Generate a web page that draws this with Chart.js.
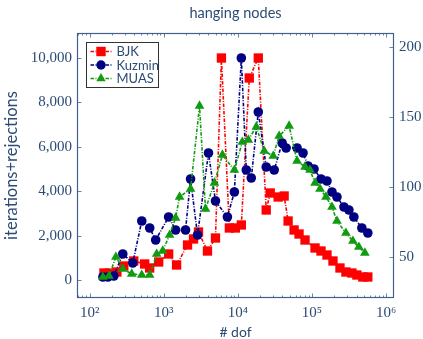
<!DOCTYPE html>
<html>
<head>
<meta charset="utf-8">
<script src="https://cdn.jsdelivr.net/npm/chart.js@4.4.0/dist/chart.umd.min.js"></script>
<style>
  body { margin: 0; background: #fff; }
</style>
</head>
<body>
<canvas id="myChart" width="423" height="339"></canvas>
<script>
const chartTitle = 'hanging nodes';
const xTitle = '# dof';
const yTitle = 'iterations+rejections';

const dofTicks = [1e2, 1e3, 1e4, 1e5, 1e6];
const dofTickLabels = ['10²', '10³', '10⁴', '10⁵', '10⁶'];
const leftTicks = [0, 2000, 4000, 6000, 8000, 10000];
const rightTicks = [50, 100, 150, 200];

// BJK and Kuzmin on the left axis
const bjkDof = [156, 187, 233, 289, 394, 553, 646, 854, 1164, 1490, 2094, 2523, 2944, 3890, 4989, 6000,
  7690, 9250, 11140, 14260, 18870, 24150, 27350, 34990, 42140, 47640, 57410, 66980, 80650, 110100,
  132500, 159500, 192200, 238900, 287300, 346000, 403900, 486300, 567300];
const bjkIter = [315, 315, 360, 630, 856, 721, 541, 811, 1171, 676, 1577, 1847, 2162, 1306, 1892, 10000,
  2343, 2343, 2478, 9100, 10000, 3154, 3919, 3739, 3784, 2658, 2253, 2072, 1802, 1442,
  1306, 1126, 856, 541, 360, 315, 225, 135, 135];

const kuzminDof = [151, 176, 212, 280, 382, 505, 646, 778, 1164, 1445, 1968, 2300, 2856, 4015, 4989, 7228,
  8974, 11140, 13000, 15170, 18870, 24150, 30920, 39600, 44780, 62950, 75820, 88460, 106600, 132500,
  159500, 186300, 217500, 270400, 315300, 368000, 471200, 567300];
const kuzminIter = [135, 135, 180, 1171, 766, 2658, 2343, 1802, 2838, 2253, 2253, 4550, 2027, 5721, 3559, 2838,
  3964, 10000, 4956, 4595, 7568, 5091, 4956, 6172, 5947, 5947, 5721, 5136, 5001, 4550,
  4460, 3964, 3739, 3289, 3154, 2838, 2343, 2117];

// MUAS on the right axis
const muasDof = [151, 182, 226, 280, 370, 505, 646, 803, 967, 1200, 1445, 1636, 2300, 3040, 3656, 4831,
  6192, 8974, 11480, 13830, 17730, 22700, 30000, 36060, 49170, 62950, 80650, 94130, 110100, 128500,
  154800, 186300, 217500, 287300, 356700, 429600, 517200];
const muasIter = [35.7, 36.4, 50.0, 41.4, 37.9, 37.1, 37.1, 52.1, 54.3, 65.7, 77.9, 92.9, 98.6, 157.9, 84.3, 102.9,
  122.9, 112.1, 132.1, 133.6, 142.9, 125.7, 122.1, 136.4, 143.6, 118.6, 114.3, 112.1, 102.9, 98.6,
  92.9, 85.7, 75.7, 67.1, 61.4, 57.1, 52.9];

const textColor = '#2c4b74';
const frameColor = '#3f618c';
const tickColor = '#6d86a6';
const tickFont = { family: "'Liberation Serif', serif", size: 15 };
const labelFont = { family: "Lato, 'Noto Sans', sans-serif", size: 16.5, lineHeight: 1.2 };

function series(label, xs, ys, color, style, radius, axis, order) {
  return {
    label: label,
    data: xs.map((x, i) => ({ x: x, y: ys[i] })),
    yAxisID: axis,
    order: order,
    borderColor: color,
    backgroundColor: color,
    pointBackgroundColor: color,
    pointBorderColor: color,
    pointBorderWidth: 0,
    pointStyle: style,
    pointRadius: radius,
    pointHoverRadius: radius,
    borderWidth: 1.6,
    borderDash: [3.5, 1.5, 1, 1.5],
    fill: false,
    tension: 0
  };
}

const legendItems = [
  { label: 'BJK', color: '#ff0000', mark: 'rect' },
  { label: 'Kuzmin', color: '#000080', mark: 'circle' },
  { label: 'MUAS', color: '#109b10', mark: 'triangle' }
];

function drawMark(ctx, mark, cx, cy) {
  ctx.beginPath();
  if (mark === 'rect') {
    ctx.rect(cx - 4.7, cy - 4.7, 9.4, 9.4);
  } else if (mark === 'circle') {
    ctx.arc(cx, cy, 4.7, 0, Math.PI * 2);
  } else {
    const r = 5.4;
    ctx.moveTo(cx, cy - r);
    ctx.lineTo(cx + r * Math.sin(Math.PI * 2 / 3), cy - r * Math.cos(Math.PI * 2 / 3));
    ctx.lineTo(cx + r * Math.sin(Math.PI * 4 / 3), cy - r * Math.cos(Math.PI * 4 / 3));
    ctx.closePath();
  }
  ctx.fill();
}

const framePlugin = {
  id: 'frame',
  afterDraw(chart) {
    const ctx = chart.ctx;
    const a = chart.chartArea;
    const x = chart.scales.x, y = chart.scales.y, y1 = chart.scales.y1;
    ctx.save();

    // title over the plot area
    ctx.fillStyle = textColor;
    ctx.font = "14.5px Lato, 'Noto Sans', sans-serif";
    ctx.textAlign = 'center';
    ctx.textBaseline = 'middle';
    ctx.fillText(chartTitle, (a.left + a.right) / 2, 13.5);

    // inward ticks
    ctx.strokeStyle = tickColor;
    ctx.lineWidth = 1;
    ctx.beginPath();
    for (let d = 1; d <= 6; d++) {
      for (let m = 1; m <= 9; m++) {
        const v = m * Math.pow(10, d);
        if (v < x.min || v > x.max) continue;
        const px = Math.round(x.getPixelForValue(v)) + 0.5;
        const len = m === 1 ? 4.5 : 2.5;
        ctx.moveTo(px, a.bottom); ctx.lineTo(px, a.bottom - len);
        ctx.moveTo(px, a.top); ctx.lineTo(px, a.top + len);
      }
    }
    leftTicks.forEach(v => {
      const py = Math.round(y.getPixelForValue(v)) + 0.5;
      ctx.moveTo(a.left, py); ctx.lineTo(a.left + 4.5, py);
    });
    rightTicks.forEach(v => {
      const py = Math.round(y1.getPixelForValue(v)) + 0.5;
      ctx.moveTo(a.right, py); ctx.lineTo(a.right - 4.5, py);
    });
    ctx.stroke();

    // frame
    ctx.strokeStyle = frameColor;
    ctx.lineWidth = 1.2;
    ctx.strokeRect(a.left + 0.5, a.top + 0.5, a.right - a.left - 1, a.bottom - a.top - 1);

    // legend box
    const lx = a.left + 9.5, ly = a.top + 9.5, lw = 72, lh = 45;
    ctx.fillStyle = '#ffffff';
    ctx.fillRect(lx, ly, lw, lh);
    ctx.strokeStyle = '#333333';
    ctx.lineWidth = 1;
    ctx.strokeRect(lx, ly, lw, lh);
    ctx.font = "13px Lato, 'Noto Sans', sans-serif";
    ctx.textAlign = 'left';
    legendItems.forEach((it, i) => {
      const cy = ly + 9 + i * 13.5;
      ctx.strokeStyle = it.color;
      ctx.fillStyle = it.color;
      ctx.lineWidth = 1.6;
      ctx.setLineDash([3.5, 1.5, 1, 1.5]);
      ctx.beginPath();
      ctx.moveTo(lx + 4, cy); ctx.lineTo(lx + 25, cy);
      ctx.stroke();
      ctx.setLineDash([]);
      drawMark(ctx, it.mark, lx + 14.5, cy);
      ctx.fillStyle = textColor;
      ctx.fillText(it.label, lx + 30, cy + 0.5);
    });
    ctx.restore();
  }
};

const chart = new Chart(document.getElementById('myChart'), {
  type: 'line',
  data: {
    datasets: [
      series('BJK', bjkDof, bjkIter, '#ff0000', 'rect', 6.6, 'y', 3),
      series('Kuzmin', kuzminDof, kuzminIter, '#000080', 'circle', 4.8, 'y', 2),
      series('MUAS', muasDof, muasIter, '#109b10', 'triangle', 5.6, 'y1', 1)
    ]
  },
  options: {
    responsive: false,
    animation: false,
    devicePixelRatio: 1,
    layout: { padding: { top: 33, left: 0, right: 0, bottom: 0 } },
    plugins: {
      legend: { display: false },
      title: { display: false },
      tooltip: { enabled: false }
    },
    scales: {
      x: {
        type: 'logarithmic',
        position: 'bottom',
        min: 67.5,
        max: 1.28e6,
        grid: { display: false, drawTicks: false },
        border: { display: false },
        afterBuildTicks: s => { s.ticks = dofTicks.map(v => ({ value: v })); },
        afterFit: s => { s.height = 41; },
        ticks: {
          autoSkip: false,
          maxRotation: 0,
          padding: 6,
          color: textColor,
          font: tickFont,
          callback: (v, i) => dofTickLabels[i]
        },
        title: {
          display: true,
          text: xTitle,
          color: textColor,
          font: { family: labelFont.family, size: 14, lineHeight: 1 },
          padding: { top: 0, bottom: 0 }
        }
      },
      y: {
        type: 'linear',
        position: 'left',
        min: -811,
        max: 11127,
        grid: { display: false, drawTicks: false },
        border: { display: false },
        afterBuildTicks: s => { s.ticks = leftTicks.map(v => ({ value: v })); },
        afterFit: s => { s.width = 77; },
        ticks: {
          padding: 5,
          color: textColor,
          font: tickFont,
          callback: v => v.toLocaleString('en-US')
        },
        title: {
          display: true,
          text: yTitle,
          color: textColor,
          font: labelFont,
          padding: { top: 2, bottom: 0 }
        }
      },
      y1: {
        type: 'linear',
        position: 'right',
        min: 20.7,
        max: 210,
        grid: { display: false, drawTicks: false },
        border: { display: false },
        afterBuildTicks: s => { s.ticks = rightTicks.map(v => ({ value: v })); },
        afterFit: s => { s.width = 29; },
        ticks: {
          padding: 5,
          color: textColor,
          font: tickFont
        }
      }
    }
  },
  plugins: [framePlugin]
});
</script>
</body>
</html>
